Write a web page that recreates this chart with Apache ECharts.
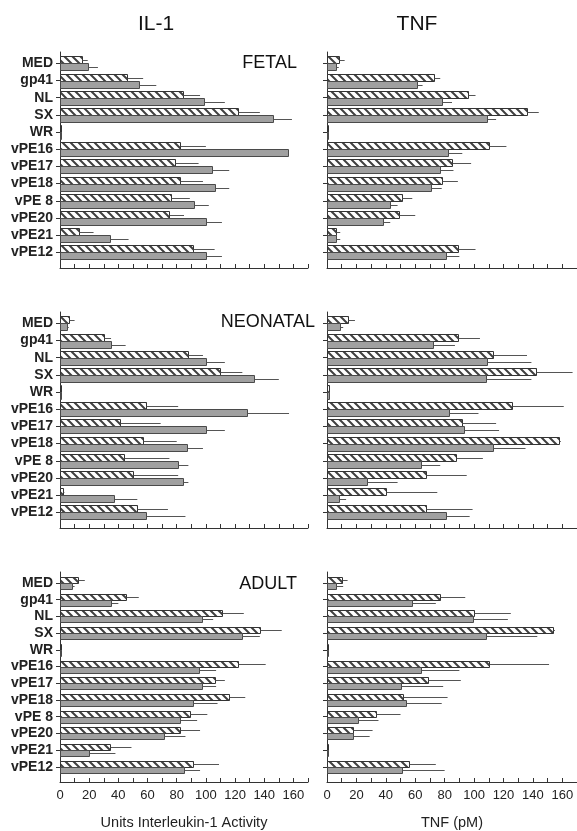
<!DOCTYPE html>
<html><head><meta charset="utf-8">
<script src="https://cdn.jsdelivr.net/npm/echarts@6/dist/echarts.min.js"></script>
<style>html,body{margin:0;padding:0;background:#fff}#c{width:577px;height:831px}</style>
</head><body><div id="c"></div>
<script>
// ---------- data ----------
const categories = ['MED','gp41','NL','SX','WR','vPE16','vPE17','vPE18','vPE 8','vPE20','vPE21','vPE12'];
const xTickValues = [0,10,20,30,40,50,60,70,80,90,100,110,120,130,140,150,160,170];
const xLabelValues = [0,20,40,60,80,100,120,140,160];
const columnHeaders = ['IL-1','TNF'];
const rowTitles = ['FETAL','NEONATAL','ADULT'];
const axisNames = ['Units Interleukin-1 Activity','TNF (pM)'];

// Fetal
const fetalIL1Hatched    = [15, 46, 84, 122, 0.8, 82, 79, 82, 76, 75, 13, 91];
const fetalIL1HatchedErr = [4, 11, 12, 15, 0, 18, 16, 16, 13, 10, 10, 15];
const fetalIL1Gray       = [19, 54, 99, 146, 0.8, 156, 104, 106, 92, 100, 34, 100];
const fetalIL1GrayErr    = [7, 12, 14, 13, 0, 0, 12, 10, 10, 11, 13, 11];
const fetalTNFHatched    = [8, 73, 96, 136, 1, 110, 85, 78, 51, 49, 6, 89];
const fetalTNFHatchedErr = [4, 4, 5, 8, 0, 12, 13, 11, 7, 11, 3, 12];
const fetalTNFGray       = [6, 61, 78, 109, 1, 82, 77, 71, 43, 38, 6, 81];
const fetalTNFGrayErr    = [2, 4, 7, 6, 0, 10, 9, 7, 5, 5, 3, 9];
// Neonatal
const neoIL1Hatched    = [6, 30, 88, 110, 1, 59, 41, 57, 44, 50, 2, 53];
const neoIL1HatchedErr = [4, 5, 10, 15, 0, 22, 28, 23, 31, 31, 1, 21];
const neoIL1Gray       = [5, 35, 100, 133, 1, 128, 100, 87, 81, 84, 37, 59];
const neoIL1GrayErr    = [1, 10, 13, 17, 0, 29, 13, 11, 7, 4, 16, 27];
const neoTNFHatched    = [14, 89, 113, 142, 1.5, 126, 92, 158, 88, 67, 40, 67];
const neoTNFHatchedErr = [5, 15, 23, 25, 0, 35, 23, 1, 18, 28, 35, 32];
const neoTNFGray       = [9, 72, 109, 108, 1.5, 83, 93, 113, 64, 27, 8, 81];
const neoTNFGrayErr    = [2, 15, 30, 31, 0, 20, 24, 22, 13, 21, 5, 16];
// Adult
const adultIL1Hatched    = [12, 45, 111, 137, 1, 122, 106, 116, 89, 82, 34, 91];
const adultIL1HatchedErr = [5, 9, 15, 15, 0, 19, 7, 11, 12, 14, 15, 18];
const adultIL1Gray       = [8, 35, 97, 125, 1, 95, 97, 91, 82, 71, 20, 85];
const adultIL1GrayErr    = [2, 5, 8, 12, 0, 12, 10, 17, 12, 15, 18, 11];
const adultTNFHatched    = [10, 77, 100, 154, 1, 110, 69, 52, 33, 18, 1, 56];
const adultTNFHatchedErr = [4, 17, 25, 1, 0, 41, 22, 30, 17, 13, 0, 18];
const adultTNFGray       = [6, 58, 99, 108, 1, 64, 50, 54, 21, 18, 1, 51];
const adultTNFGrayErr    = [5, 16, 24, 35, 0, 26, 29, 24, 14, 11, 0, 29];

// ---------- layout / style ----------
const FONT = '"Liberation Sans", Arial, Helvetica, sans-serif';
const NARROW = '"Liberation Sans Narrow", "Arial Narrow", "Liberation Sans", Arial, sans-serif';
const panels = [
  {row:0, col:0, h:fetalIL1Hatched, he:fetalIL1HatchedErr, g:fetalIL1Gray, ge:fetalIL1GrayErr},
  {row:0, col:1, h:fetalTNFHatched, he:fetalTNFHatchedErr, g:fetalTNFGray, ge:fetalTNFGrayErr},
  {row:1, col:0, h:neoIL1Hatched, he:neoIL1HatchedErr, g:neoIL1Gray, ge:neoIL1GrayErr},
  {row:1, col:1, h:neoTNFHatched, he:neoTNFHatchedErr, g:neoTNFGray, ge:neoTNFGrayErr},
  {row:2, col:0, h:adultIL1Hatched, he:adultIL1HatchedErr, g:adultIL1Gray, ge:adultIL1GrayErr},
  {row:2, col:1, h:adultTNFHatched, he:adultTNFHatchedErr, g:adultTNFGray, ge:adultTNFGrayErr}
];
const colLeft = [60, 327], colWidth = [248, 250];
const rowTop = 52, rowStep = 260, gridH = 216;

// hatch pattern
const pc = document.createElement('canvas'); pc.width = 8; pc.height = 8;
const pg = pc.getContext('2d');
pg.fillStyle = '#fff'; pg.fillRect(0,0,8,8);
pg.strokeStyle = '#404040'; pg.lineWidth = 2;
pg.beginPath();
pg.moveTo(-2,-2); pg.lineTo(10,10);
pg.moveTo(-2,6); pg.lineTo(2,10);
pg.moveTo(6,-2); pg.lineTo(10,2);
pg.stroke();
const hatch = {image: pc, repeat: 'repeat'};

function makeRender(side){
  return function(params, api){
    const i = api.value(0), v = api.value(1), e = api.value(2);
    const c0 = api.coord([0, i]);
    const c1 = api.coord([v, i]);
    const c2 = api.coord([v + e, i]);
    const band = Math.abs(api.size([0, 1])[1]);
    const h = Math.round(band * 0.385);
    const yc = Math.round(c0[1]);
    const y = side < 0 ? yc - h : yc;
    const x0 = Math.round(c0[0]) + 0.5;
    const x1 = Math.max(Math.round(c1[0]) + 0.5, x0 + 1);
    const ch = [{
      type:'rect',
      shape:{x:x0, y:y + 0.5, width:x1 - x0, height:h},
      style: side < 0 ? {fill:hatch, stroke:'#333', lineWidth:1}
                      : {fill:'#a0a0a0', stroke:'#4a4a4a', lineWidth:1}
    }];
    if (e > 0) {
      const ym = y + Math.round(h/2) + 0.5;
      ch.push({type:'line', shape:{x1:x1, y1:ym, x2:c2[0], y2:ym}, style:{stroke:'#555', lineWidth:1}});
    }
    return {type:'group', children:ch};
  };
}

const grid = [], xAxis = [], yAxis = [], series = [];
panels.forEach((p, k) => {
  grid.push({left: colLeft[p.col], top: rowTop + rowStep*p.row, width: colWidth[p.col], height: gridH});
  const bottom = p.row === 2;
  xAxis.push({
    gridIndex:k, type:'value', min:0, max:170,
    axisLine:{show:true, onZero:false, lineStyle:{color:'#333', width:1}},
    axisTick:{show:true, inside:true, length:4, customValues:xTickValues, lineStyle:{color:'#333'}},
    axisLabel:{show:bottom, customValues:xLabelValues, fontFamily:NARROW, fontSize:13, color:'#222', margin:7},
    splitLine:{show:false},
    name: bottom ? axisNames[p.col] : '', nameLocation:'middle', nameGap:33,
    nameTextStyle:{fontFamily:FONT, fontSize:14.5, color:'#222'}
  });
  const idx = categories.map((c, i) => i);
  yAxis.push({
    gridIndex:k, type:'value', inverse:true, min:-0.66, max:11.91,
    axisLine:{show:true, lineStyle:{color:'#333', width:1}},
    axisTick:{show:true, length:4, customValues:idx, lineStyle:{color:'#333'}},
    axisLabel:{show:p.col === 0, customValues:idx, formatter:(v) => categories[Math.round(v)],
      fontFamily:FONT, fontSize:14, fontWeight:'bold', color:'#222', margin:7},
    splitLine:{show:false}
  });
  series.push({
    type:'custom', xAxisIndex:k, yAxisIndex:k, clip:false, silent:true,
    renderItem: makeRender(-1), encode:{x:[1,2], y:0},
    data: categories.map((c, i) => [i, p.h[i], p.he[i]])
  });
  series.push({
    type:'custom', xAxisIndex:k, yAxisIndex:k, clip:false, silent:true,
    renderItem: makeRender(1), encode:{x:[1,2], y:0},
    data: categories.map((c, i) => [i, p.g[i], p.ge[i]])
  });
});

const titlePos = [{x:297, y:63}, {x:315, y:322}, {x:297, y:584}];
const graphic = [
  {type:'text', x:156, y:24, style:{text:columnHeaders[0], font:'21px ' + FONT, fill:'#111', textAlign:'center', textVerticalAlign:'middle'}},
  {type:'text', x:417, y:24, style:{text:columnHeaders[1], font:'21px ' + FONT, fill:'#111', textAlign:'center', textVerticalAlign:'middle'}}
];
rowTitles.forEach((t, r) => graphic.push({type:'text', x:titlePos[r].x, y:titlePos[r].y,
  style:{text:t, font:'18px ' + FONT, fill:'#111', textAlign:'right', textVerticalAlign:'middle'}}));

const chart = echarts.init(document.getElementById('c'), null, {renderer:'canvas'});
chart.setOption({animation:false, backgroundColor:'#fff', grid, xAxis, yAxis, series, graphic});
</script></body></html>
